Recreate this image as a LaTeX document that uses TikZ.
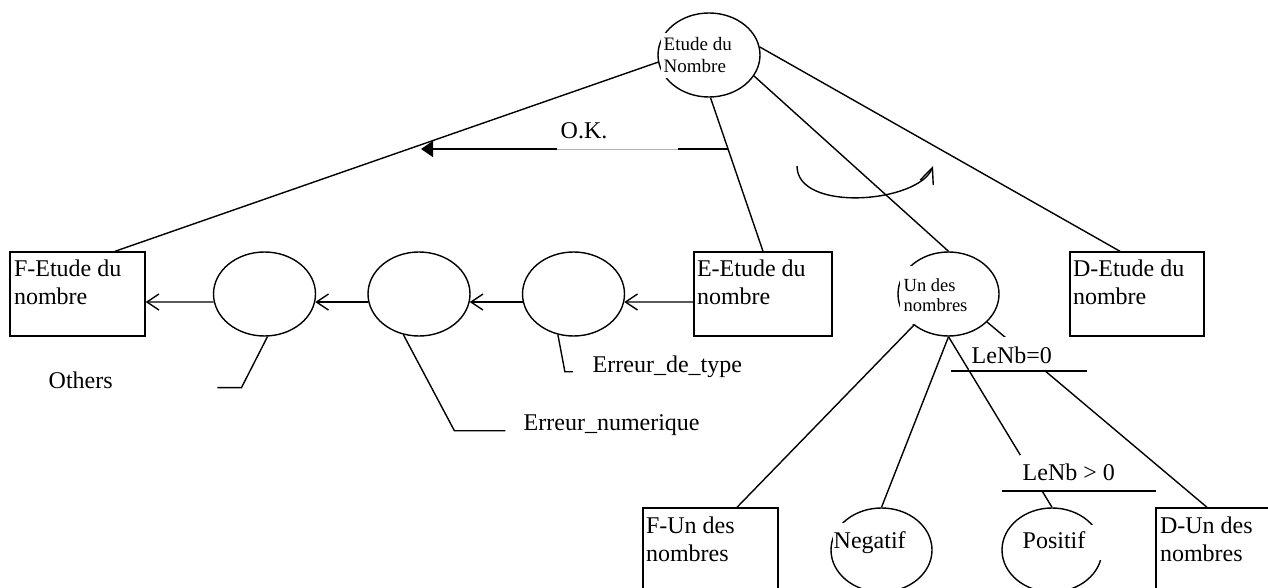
\documentclass[tikz,border=0pt]{standalone}
\usepackage{fontspec}
\setmainfont{Liberation Serif}
\usetikzlibrary{shapes.geometric,arrows.meta}

\begin{document}
\begin{tikzpicture}[x=1pt,y=-1pt,line width=1.4pt,
  ell/.style={ellipse, draw, minimum width=102pt, minimum height=84pt, inner sep=0pt},
  boxnode/.style={rectangle, draw, minimum width=135pt, minimum height=84pt, inner sep=0pt},
  big/.style={font=\fontsize{24}{28}\selectfont},
  lab/.style={big, inner sep=0pt, anchor=base west},
  boxlab/.style={big, inner sep=0pt, anchor=north west, align=left},
  arr/.style={-{Straight Barb[length=12pt,width=16pt]}},
  faint/.style={draw=black!30, line width=0.8pt}
]
\useasboundingbox (0,0) rectangle (1268,588);
\clip (0,0) rectangle (1268,588);

% shapes
\node[boxnode] (F) at (77.5,294) {};
\node[ell] (e1) at (264.5,294) {};
\node[ell] (e2) at (419,294) {};
\node[ell] (e3) at (573.5,294) {};
\node[boxnode, minimum width=138pt] (E) at (763,294) {};
\node[boxnode, minimum width=134pt] (D) at (1137,294) {};
\node[ell] (top) at (709,55) {};
\node[ell, minimum width=101pt] (U) at (948.5,294) {};
\node[boxnode] (FU) at (710.5,550) {};
\node[ell, minimum width=101pt] (neg) at (881.5,550) {};
\node[ell, minimum width=100pt] (pos) at (1052,550) {};
\node[boxnode] (DU) at (1223.5,550) {};

% branches of the top node
\draw (top.188) -- ([xshift=37.5pt]F.north);
\draw (top.272) -- (E.north);
\draw (top.335) -- (U.north);
\draw (top.9) -- ([xshift=-17pt]D.north);

% O.K. arrow
\coordinate (okS) at (728,149);
\coordinate (okB) at (678,149);
\coordinate (okA) at (557,149);
\coordinate (okT) at (421,149);
\draw (okS) -- (okB);
\draw[faint] (okB) -- (okA);
\draw[-{Triangle[length=12pt,width=16pt]}] (okA) -- (okT);
\node[lab] (ok) at (560,139) {O.K.};

% rotation arrow
\coordinate (cS) at (797,166);
\coordinate (cE) at (933,166);
\draw[-{Straight Barb[length=16pt,width=14pt]}] (cS) .. controls (797,213) and (919,203) .. (cE);

% error chain
\draw[arr] ([yshift=-8pt]E.west) -- (e3.351);
\draw[arr] (e3.189) -- (e2.351);
\draw[arr] (e2.189) -- (e1.351);
\draw[arr] (e1.189) -- ([yshift=-8pt]F.east);

\draw (e3.249) -- ++(7,37) -- ++(8,0);
\draw (e2.249) -- ++(51,96) -- ++(51,0);
\draw (e1.274) -- ++(-26,51) -- ++(-24,0);
\node[lab] (lt) at (592,372) {Erreur\_de\_type};
\node[lab] (ln) at (523,430) {Erreur\_numerique};
\node[lab] (lo) at (48,388) {Others};

% branches of "Un des nombres"
\draw (U.222) -- ([xshift=26.5pt]FU.north);
\draw (U.south) -- (neg.north);
\draw (U.south) -- (pos.north);
\draw (U.324) -- ([xshift=-16.5pt]DU.north);

% box texts
\node[boxlab] (Ft) at ([xshift=4pt,yshift=-8.1pt]F.north west) {F-Etude du\\nombre};
\node[boxlab] (Et) at ([xshift=3pt,yshift=-8.1pt]E.north west) {E-Etude du\\nombre};
\node[boxlab] (Dt) at ([xshift=3pt,yshift=-8.1pt]D.north west) {D-Etude du\\nombre};
\node[boxlab] (FUt) at ([xshift=3pt,yshift=-8.6pt]FU.north west) {F-Un des\\nombres};
\node[boxlab] (DUt) at ([xshift=4pt,yshift=-8.6pt]DU.north west) {D-Un des\\nombres};

% texts on white ground
\node[anchor=north west, align=left, fill=white, inner xsep=3pt, inner ysep=5pt,
      font=\fontsize{19}{21.7}\selectfont] (topT) at (660,32) {Etude du\\Nombre};
\node[anchor=north west, align=left, fill=white, inner xsep=4pt, inner ysep=12.5pt,
      font=\fontsize{18.5}{20.7}\selectfont] (UT) at (899,265) {Un des\\nombres};
\node[lab, fill=white, inner xsep=3pt, text height=26pt, text depth=8pt] (c0) at (968,363) {LeNb=0};
\node[lab, fill=white, inner xsep=3pt, text height=25pt, text depth=10pt] (c1) at (1019,480) {LeNb > 0};
\node[lab, fill=white, inner xsep=1pt, text height=25pt, text depth=12pt] (negT) at (832,548) {Negatif};
\node[lab, fill=white, inner xsep=3pt, text height=23pt, text depth=12pt, text width=82pt, align=left] (posT) at (1019,548) {Positif};

% condition bars
\coordinate (b0a) at (951,371);
\coordinate (b0b) at (1087,371);
\coordinate (b1a) at (1002,491);
\coordinate (b1b) at (1156,491);
\draw (b0a) -- (b0b);
\draw (b1a) -- (b1b);
\end{tikzpicture}
\end{document}
